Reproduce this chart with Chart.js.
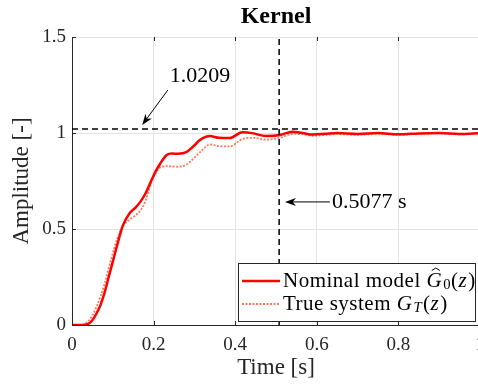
<!DOCTYPE html>
<html>
<head>
<meta charset="utf-8">
<script src="https://cdn.jsdelivr.net/npm/chart.js@4"></script>
<style>
  html, body { margin: 0; padding: 0; overflow: hidden; background: #fff; }
  #wrap { width: 482px; height: 385px; }
</style>
</head>
<body>
<div id="wrap"><canvas id="kernel"></canvas></div>
<script>
// step response data
const time    = [0, 0.02, 0.03, 0.04, 0.05, 0.06, 0.07, 0.08, 0.09, 0.1, 0.11, 0.125, 0.142, 0.155, 0.167, 0.18, 0.195, 0.205, 0.216, 0.232, 0.245, 0.26, 0.28, 0.297, 0.314, 0.338, 0.36, 0.387, 0.417, 0.445, 0.474, 0.51, 0.54, 0.565, 0.59, 0.62, 0.65, 0.7, 0.75, 0.8, 0.85, 0.9, 0.95, 1.0];
const nominal = [0, 0, 0.001, 0.006, 0.025, 0.06, 0.105, 0.17, 0.25, 0.33, 0.41, 0.52, 0.585, 0.61, 0.64, 0.685, 0.755, 0.8, 0.84, 0.885, 0.893, 0.892, 0.9, 0.93, 0.964, 0.984, 0.975, 0.974, 1.004, 0.998, 0.984, 0.99, 1.007, 1.0, 0.992, 0.996, 1.0, 0.995, 1.0, 0.993, 0.998, 1.0, 0.995, 1.0];
const trueSys = [0, 0, 0.004, 0.02, 0.05, 0.095, 0.15, 0.215, 0.295, 0.375, 0.445, 0.515, 0.55, 0.57, 0.595, 0.645, 0.745, 0.79, 0.82, 0.827, 0.826, 0.824, 0.835, 0.865, 0.9, 0.94, 0.932, 0.93, 0.968, 0.975, 0.965, 0.975, 0.995, 0.994, 0.985, 0.99, 0.995, 0.99, 0.997, 0.99, 0.996, 0.998, 0.993, 0.998];
const xTicks = [0, 0.2, 0.4, 0.6, 0.8, 1];
const yTicks = [0, 0.5, 1, 1.5];
const peakValue = 1.0209;
const settleTime = 0.5077;

const serif = '"Liberation Serif", "DejaVu Serif", serif';
const axisColor = '#262626';

function pts(xs, ys) { return xs.map((t, i) => ({x: t, y: ys[i]})); }

function arrow(ctx, x0, y0, x1, y1) {
  const ang = Math.atan2(y1 - y0, x1 - x0);
  const L = 11, W = 4;
  ctx.beginPath(); ctx.moveTo(x0, y0); ctx.lineTo(x1 - Math.cos(ang) * 6, y1 - Math.sin(ang) * 6); ctx.stroke();
  ctx.save();
  ctx.translate(x1, y1); ctx.rotate(ang);
  ctx.beginPath();
  ctx.moveTo(0, 0); ctx.lineTo(-L, -W); ctx.lineTo(-L * 0.7, 0); ctx.lineTo(-L, W); ctx.closePath();
  ctx.fill();
  ctx.restore();
}

// draws text pieces with italics / subscripts / hat
function mathText(ctx, x, y, parts, size) {
  let cx = x;
  parts.forEach(p => {
    const s = p.sub ? size * 0.7 : size;
    ctx.font = (p.it ? 'italic ' : '') + s + 'px ' + serif;
    const dy = p.sub ? size * 0.22 : 0;
    ctx.fillText(p.t, cx, y + dy);
    const w = ctx.measureText(p.t).width;
    if (p.hat) {
      const mid = cx + w / 2 + 1.5;
      ctx.beginPath();
      ctx.moveTo(mid - 4, y - size * 0.5);
      ctx.lineTo(mid, y - size * 0.62);
      ctx.lineTo(mid + 4, y - size * 0.5);
      ctx.lineWidth = 1; ctx.stroke();
    }
    cx += w + (p.it ? 1 : 0);
  });
  return cx - x;
}

const decorations = {
  id: 'decorations',
  afterDatasetsDraw(chart) {
    const {ctx, chartArea: a, scales: {x, y}} = chart;
    ctx.save();
    ctx.strokeStyle = axisColor; ctx.lineWidth = 1;
    // inward tick marks
    xTicks.forEach(v => {
      const px = Math.round(x.getPixelForValue(v)) + 0.5;
      ctx.beginPath(); ctx.moveTo(px, a.bottom); ctx.lineTo(px, a.bottom - 4);
      ctx.moveTo(px, a.top); ctx.lineTo(px, a.top + 4); ctx.stroke();
    });
    yTicks.forEach(v => {
      const py = Math.round(y.getPixelForValue(v)) + 0.5;
      ctx.beginPath(); ctx.moveTo(a.left, py); ctx.lineTo(a.left + 4, py); ctx.stroke();
    });

    // title centred over the axes
    ctx.fillStyle = '#000';
    ctx.font = 'bold 24px ' + serif;
    ctx.textAlign = 'center'; ctx.textBaseline = 'middle';
    ctx.fillText('Kernel', (a.left + a.right) / 2, 17);

    // annotations
    ctx.strokeStyle = '#000'; ctx.lineWidth = 1;
    arrow(ctx, x.getPixelForValue(0.235), y.getPixelForValue(1.224), x.getPixelForValue(0.172), y.getPixelForValue(1.042));
    arrow(ctx, x.getPixelForValue(0.632), y.getPixelForValue(0.641), x.getPixelForValue(0.522), y.getPixelForValue(0.641));
    ctx.font = '22px ' + serif;
    ctx.textAlign = 'center';
    ctx.fillText(peakValue.toFixed(4), x.getPixelForValue(0.314), y.getPixelForValue(1.297));
    ctx.textAlign = 'left';
    ctx.fillText(settleTime.toFixed(4) + ' s', x.getPixelForValue(0.637), y.getPixelForValue(0.641));

    // legend
    const bx = a.right - 242, by = a.bottom - 62, bw = 237, bh = 58;
    ctx.fillStyle = '#fff';
    ctx.fillRect(bx, by, bw, bh);
    ctx.strokeStyle = axisColor; ctx.lineWidth = 1;
    ctx.strokeRect(bx + 0.5, by + 0.5, bw, bh);
    const rows = [
      {ds: chart.data.datasets[2], y: by + 18, parts: [{t: 'Nominal model '}, {t: 'G', it: true, hat: true}, {t: '0', sub: true}, {t: '('}, {t: 'z', it: true}, {t: ')'}]},
      {ds: chart.data.datasets[3], y: by + 41, parts: [{t: 'True system '}, {t: 'G', it: true}, {t: 'T', it: true, sub: true}, {t: '('}, {t: 'z', it: true}, {t: ')'}]}
    ];
    rows.forEach(r => {
      ctx.save();
      ctx.strokeStyle = r.ds.borderColor; ctx.lineWidth = r.ds.borderWidth;
      ctx.setLineDash(r.ds.borderDash || []);
      ctx.beginPath(); ctx.moveTo(bx + 4, r.y); ctx.lineTo(bx + 42, r.y); ctx.stroke();
      ctx.restore();
      ctx.save();
      ctx.fillStyle = '#000'; ctx.strokeStyle = '#000';
      ctx.textBaseline = 'middle'; ctx.textAlign = 'left';
      ctx.letterSpacing = '0.5px';
      mathText(ctx, bx + 45, r.y, r.parts, 21);
      ctx.restore();
    });
    ctx.restore();
  }
};

new Chart(document.getElementById('kernel'), {
  type: 'line',
  data: {
    datasets: [
      {label: 'peak', data: pts([0, 1], [peakValue, peakValue]), borderColor: '#000', borderWidth: 1.5, borderDash: [6, 4], pointRadius: 0, order: 0},
      {label: 'settle', data: pts([settleTime, settleTime], [0, 1.5]), borderColor: '#000', borderWidth: 1.5, borderDash: [6, 4], pointRadius: 0, order: 0},
      {label: 'Nominal model', data: pts(time, nominal), borderColor: '#ff0000', borderWidth: 2.5, pointRadius: 0, cubicInterpolationMode: 'monotone', order: 1},
      {label: 'True system', data: pts(time, trueSys), borderColor: 'rgb(255,120,85)', borderWidth: 1.8, borderDash: [2, 1.5], pointRadius: 0, cubicInterpolationMode: 'monotone', order: 2}
    ]
  },
  options: {
    responsive: true,
    maintainAspectRatio: false,
    animation: false,
    layout: {padding: {left: 0, right: 2, top: 37, bottom: 0}},
    plugins: {
      legend: {display: false},
      tooltip: {enabled: false},
      title: {display: false}
    },
    scales: {
      x: {
        type: 'linear', min: 0, max: 1,
        afterBuildTicks: s => { s.ticks = xTicks.map(v => ({value: v})); },
        afterFit: s => { s.height = 60; s.paddingLeft = 0; s.paddingRight = 0; },
        ticks: {color: axisColor, font: {family: serif, size: 19}, padding: 9, maxRotation: 0, callback: v => String(v)},
        grid: {color: '#e3e3e3', drawTicks: false},
        border: {color: axisColor, width: 1},
        title: {display: true, text: 'Time [s]', color: axisColor, font: {family: serif, size: 23}, padding: {top: 0, bottom: 3}}
      },
      y: {
        type: 'linear', min: 0, max: 1.5,
        afterBuildTicks: s => { s.ticks = yTicks.map(v => ({value: v})); },
        afterFit: s => { s.width = 72; s.paddingTop = 0; s.paddingBottom = 0; },
        ticks: {color: axisColor, font: {family: serif, size: 19}, padding: 6, callback: v => String(v)},
        grid: {color: '#e3e3e3', drawTicks: false},
        border: {color: axisColor, width: 1},
        title: {display: true, text: 'Amplitude [-]', color: axisColor, font: {family: serif, size: 23}, padding: {top: 8, bottom: 0}}
      }
    }
  },
  plugins: [decorations]
});
</script>
</body>
</html>
